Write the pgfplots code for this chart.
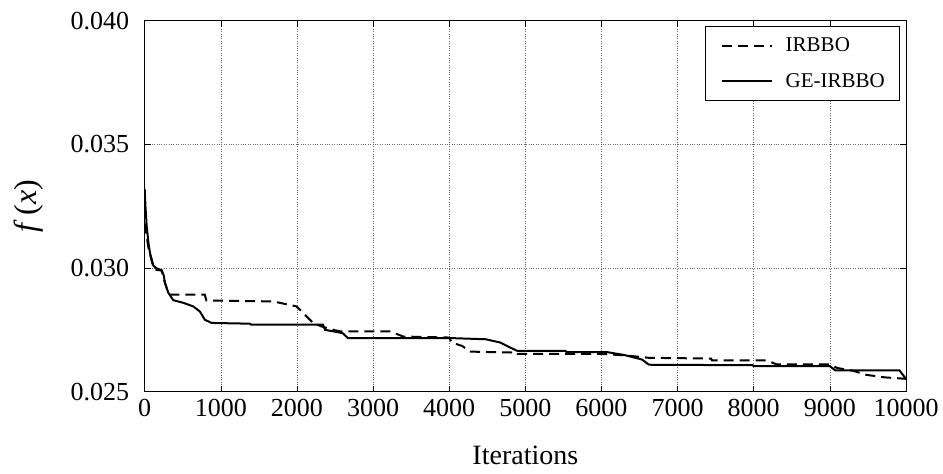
\documentclass[border=0pt]{standalone}
\usepackage{fontspec}
\setmainfont{Liberation Serif}
\usepackage{pgfplots}
\pgfplotsset{compat=1.18}

\begin{document}
\begin{tikzpicture}
\begin{axis}[
  scale only axis,
  width=761.3pt, height=371pt,
  xmin=0, xmax=10000, ymin=0.025, ymax=0.040,
  xtick={0,1000,...,10000},
  ytick={0.025,0.030,0.035,0.040},
  /pgf/number format/assume math mode=true,
  /pgf/number format/1000 sep={},
  scaled x ticks=false,
  scaled y ticks=false,
  yticklabel style={/pgf/number format/fixed, /pgf/number format/fixed zerofill, /pgf/number format/precision=3, xshift=-12pt},
  xticklabel style={yshift=-4pt},
  tick label style={font=\fontsize{26}{26}\selectfont},
  tick style={black, line width=0.6pt},
  major tick length=6pt,
  axis line style={line width=0.8pt},
  grid=major,
  grid style={dotted, gray!80!black, line width=0.6pt},
  xlabel={Iterations},
  ylabel={\textit{f}\,(\textit{x})},
  xlabel style={font=\fontsize{28}{28}\selectfont, at={(axis description cs:0.5,0)}, anchor=base, yshift=-73pt},
  ylabel style={font=\fontsize{32}{32}\selectfont, at={(axis description cs:0,0.5)}, anchor=center, yshift=116pt},
  legend style={at={(rel axis cs:1,1)}, anchor=north east, xshift=-6.7pt, yshift=-5.3pt,
    draw=black, line width=0.8pt, font=\fontsize{21}{21}\selectfont, cells={anchor=west},
    inner xsep=12pt, inner ysep=9.4pt, row sep=16.4pt},
  legend image code/.code={\draw[#1] (0pt,0pt) -- (50pt,0pt); \path (-3pt,0pt) (61pt,0pt);},
]
\addplot[black, line width=2pt, dash pattern=on 10pt off 6pt] coordinates {
(0,0.0318) (20,0.0314) (50,0.0308) (100,0.0302) (135,0.02993) (223,0.0299) (266,0.0294) (310,0.02899) (320,0.02892) (790,0.02892) (810,0.02869) (1687,0.02865) (1993,0.02845) (2037,0.02832) (2124,0.02805) (2212,0.02778) (2321,0.02764) (2478,0.0275) (2566,0.02744) (3222,0.02744) (3397,0.02723) (4000,0.02719) (4032,0.02699) (4168,0.02685) (4282,0.02662) (4895,0.02658) (4900,0.02653) (5986,0.02653) (6305,0.02647) (6623,0.02637) (7441,0.02634) (7450,0.02627) (8168,0.02627) (8305,0.0261) (9000,0.0261) (9095,0.02596) (9300,0.02585) (9482,0.02568) (9718,0.02558) (10000,0.02552)
};
\addlegendentry{IRBBO}
\addplot[black, line width=2pt] coordinates {
(0,0.0332) (10,0.0325) (26,0.0317) (50,0.0310) (70,0.0306) (113,0.0301) (150,0.0300) (223,0.0299) (250,0.0297) (266,0.0294) (310,0.0290) (375,0.0287) (500,0.02860) (637,0.02845) (725,0.02824) (790,0.02791) (878,0.02778) (1380,0.02775) (1400,0.02771) (2340,0.02771) (2370,0.02750) (2600,0.02737) (2668,0.02717) (4000,0.02717) (4480,0.02712) (4668,0.02699) (4805,0.02678) (4895,0.02665) (5530,0.02665) (5540,0.02660) (6077,0.02660) (6305,0.02648) (6532,0.0263) (6623,0.02609) (7986,0.02607) (8000,0.02603) (9000,0.02603) (9073,0.02586) (9914,0.02586) (9991,0.02555) (10000,0.02555)
};
\addlegendentry{GE-IRBBO}
\end{axis}
\pgfresetboundingbox
\path (-144.7pt,-82.3pt) rectangle (798.3pt,391.7pt);
\end{tikzpicture}
\end{document}
